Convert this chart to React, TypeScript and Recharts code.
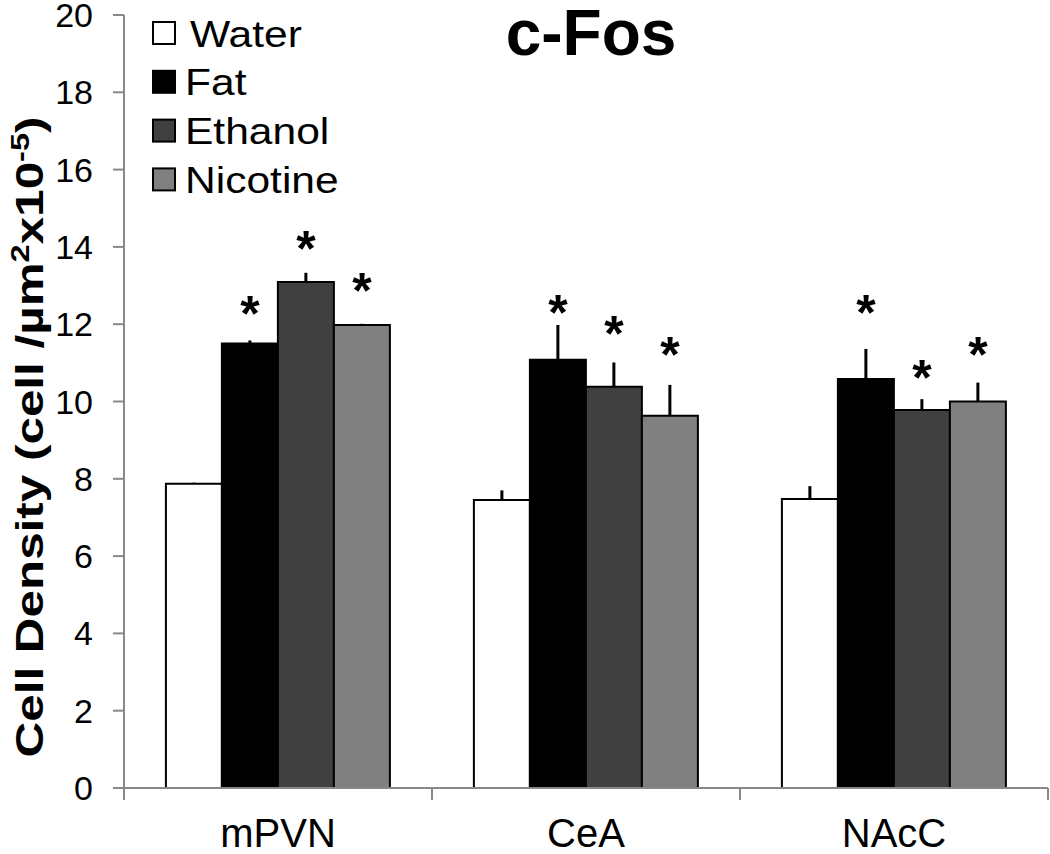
import { BarChart, Bar, XAxis, YAxis, ErrorBar, LabelList, Customized } from "recharts";

const regions = ["mPVN", "CeA", "NAcC"];
const groups = ["Water", "Fat", "Ethanol", "Nicotine"];
const fills = ["#ffffff", "#000000", "#404040", "#808080"];

const water = [7.87, 7.45, 7.48];
const fat = [11.5, 11.08, 10.58];
const ethanol = [13.09, 10.38, 9.78];
const nicotine = [11.98, 9.63, 10.0];

const waterErr = [0.03, 0.25, 0.33];
const fatErr = [0.08, 0.9, 0.78];
const ethanolErr = [0.24, 0.63, 0.28];
const nicotineErr = [0.03, 0.8, 0.49];

// where the asterisks sit, in data units
const fatStar = [12.47, 12.5, 12.5];
const ethanolStar = [14.16, 11.95, 10.81];
const nicotineStar = [13.07, 11.41, 11.41];

const yTicks = [0, 2, 4, 6, 8, 10, 12, 14, 16, 18, 20];

const means = [water, fat, ethanol, nicotine];
const errs = [waterErr, fatErr, ethanolErr, nicotineErr];
const stars = [null, fatStar, ethanolStar, nicotineStar];

const rows = regions.map((r, i) => {
  const row: any = { region: r };
  groups.forEach((g, k) => {
    row[g] = means[k][i];
    row[g + "Err"] = [0, errs[k][i]];
    if (stars[k]) row[g + "Star"] = stars[k]![i];
  });
  return row;
});

const W = 1050;
const H = 854;
const LEFT = 124;
const RIGHT = 2;
const TOP = 15;
const BOTTOM = 66;
const band = (W - LEFT - RIGHT) / regions.length;
const font = "Arial, 'Liberation Sans', sans-serif";

const starLabel = (series: number[]) => (props: any) => {
  const { x, y, width, height, value, index } = props;
  const perUnit = height / series[index];
  const sy = y + height - value * perUnit;
  return (
    <text x={x + width / 2} y={sy + 25} textAnchor="middle" fontSize={50} fontWeight="bold" fontFamily={font} fill="#000">
      *
    </text>
  );
};

const CatTick = (props: any) => {
  const { x, y, payload, index } = props;
  return (
    <g>
      <line x1={x - band / 2} x2={x - band / 2} y1={y - 8} y2={y + 4} stroke="#888" strokeWidth={2} />
      {index === regions.length - 1 && (
        <line x1={x + band / 2} x2={x + band / 2} y1={y - 8} y2={y + 4} stroke="#888" strokeWidth={2} />
      )}
      <text x={x} y={y + 51} textAnchor="middle" fontSize={40} fontFamily={font} fill="#000">
        {payload.value}
      </text>
    </g>
  );
};

const LegendBox = () => (
  <g fontFamily={font} fontSize={37} fill="#000">
    {groups.map((g, k) => (
      <g key={g} transform={`translate(152, ${33.5 + k * 48.8})`}>
        <rect x={1} y={-11.5} width={22} height={22} fill={fills[k]} stroke="#000" strokeWidth={2} />
        <text transform={`translate(${k === 0 ? 38 : 33}, 13) scale(1.15, 1)`}>{g}</text>
      </g>
    ))}
  </g>
);

const YLabel = () => (
  <text
    transform={`translate(43, 437) rotate(-90) scale(1.3, 1)`}
    textAnchor="middle"
    fontSize={38}
    fontWeight="bold"
    fontFamily={font}
    fill="#000"
  >
    Cell Density (cell /µm
    <tspan dy={-14} fontSize={25}>2</tspan>
    <tspan dy={14}>x10</tspan>
    <tspan dy={-14} fontSize={25}>-5</tspan>
    <tspan dy={14}>)</tspan>
  </text>
);

const Title = () => (
  <text x={591} y={55} textAnchor="middle" fontSize={64} fontWeight="bold" fontFamily={font} fill="#000">
    c-Fos
  </text>
);

export default function App() {
  return (
    <div style={{ position: "absolute", left: 0, top: 0, background: "#fff" }}>
      <BarChart
        width={W}
        height={H}
        data={rows}
        margin={{ top: TOP, right: RIGHT, bottom: 0, left: 0 }}
        barCategoryGap="13.6%"
        barGap={0}
      >
        <XAxis
          dataKey="region"
          height={BOTTOM}
          stroke="#888"
          strokeWidth={2}
          tickLine={false}
          tick={<CatTick />}
          interval={0}
        />
        <YAxis
          width={LEFT}
          domain={[0, 20]}
          ticks={yTicks}
          interval={0}
          stroke="#888"
          strokeWidth={2}
          tickSize={11}
          tick={{ fill: "#000", fontSize: 34, fontFamily: font }}
          tickMargin={20}
        />
        {groups.map((g, k) => (
          <Bar
            key={g}
            dataKey={g}
            fill={fills[k]}
            stroke="#000"
            strokeWidth={2}
            isAnimationActive={false}
          >
            <ErrorBar dataKey={g + "Err"} width={0} stroke="#000" strokeWidth={3} direction="y" />
            {stars[k] && <LabelList dataKey={g + "Star"} content={starLabel(means[k])} />}
          </Bar>
        ))}
        <Customized component={<LegendBox />} />
        <Customized component={<YLabel />} />
        <Customized component={<Title />} />
      </BarChart>
    </div>
  );
}
